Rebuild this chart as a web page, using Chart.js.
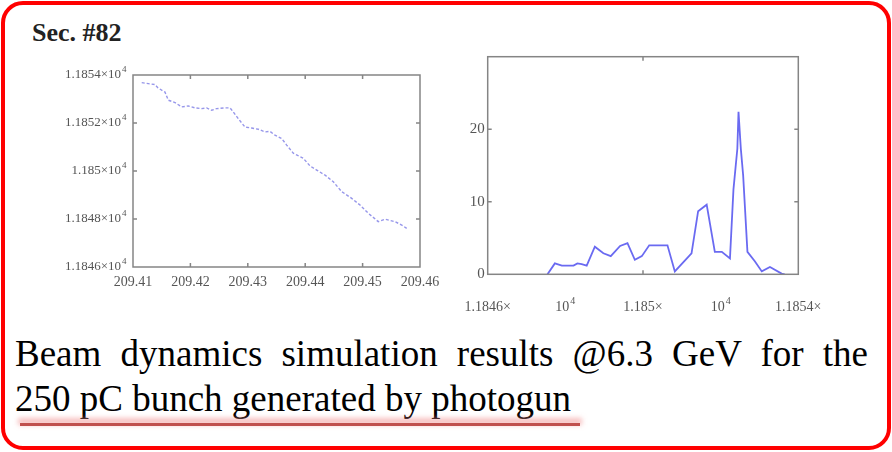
<!DOCTYPE html>
<html>
<head>
<meta charset="utf-8">
<script src="https://cdn.jsdelivr.net/npm/chart.js@4.4.1/dist/chart.umd.min.js"></script>
<style>
  body { margin: 0; background: #fff; width: 892px; height: 452px; overflow: hidden; position: relative; }
  #frame { position: absolute; left: 1px; top: 1px; width: 882px; height: 441px; border: 4px solid #ff0000; border-radius: 22px; }
  #title { position: absolute; left: 32px; top: 18px; font: bold 26px "Liberation Serif", "Times New Roman", serif; color: #222; }
  .box { position: absolute; }
  #left-box { left: 0; top: 50px; width: 440px; height: 250px; }
  #right-box { left: 440px; top: 40px; width: 440px; height: 290px; }
  .caption { position: absolute; left: 15px; width: 853px; font: 37px/45px "Liberation Serif", "Times New Roman", serif; color: #000; white-space: nowrap; }
  #line1 { top: 331px; text-align: justify; text-align-last: justify; white-space: normal; }
  #line2 { top: 376px; }
  #underline { position: absolute; left: 20px; top: 423px; width: 560px; height: 3px; background: #c0504d; box-shadow: 0 -3px 5px 2px rgba(240, 140, 140, 0.55); }
</style>
</head>
<body>
<div id="frame"></div>
<div id="title">Sec. #82</div>
<div class="box" id="left-box"><canvas id="energy-chart"></canvas></div>
<div class="box" id="right-box"><canvas id="spectrum-chart"></canvas></div>
<div class="caption" id="line1">Beam dynamics simulation results @6.3 GeV for the</div>
<div class="caption" id="line2">250 pC bunch generated by photogun</div>
<div id="underline"></div>

<script>
/*  data  */

// mean energy along the section
const sPos = [209.41152, 209.41267, 209.41383, 209.41436, 209.41557, 209.41615, 209.41732, 209.41848,
  209.41963, 209.4208, 209.42197, 209.42284, 209.42371, 209.42458, 209.42603, 209.4269, 209.42747,
  209.42834, 209.42951, 209.43068, 209.43183, 209.433, 209.43387, 209.43474, 209.43591, 209.43678,
  209.43793, 209.43967, 209.44084, 209.442, 209.44345, 209.4449, 209.44636, 209.4481, 209.44955,
  209.45099, 209.45273, 209.4539, 209.45564, 209.45681, 209.45768];
const meanEnergy = [11853.68, 11853.64, 11853.60, 11853.46, 11853.29, 11852.95, 11852.85, 11852.67,
  11852.71, 11852.63, 11852.60, 11852.63, 11852.53, 11852.60, 11852.63, 11852.63, 11852.46,
  11852.18, 11851.83, 11851.79, 11851.74, 11851.63, 11851.65, 11851.49, 11851.35, 11851.08,
  11850.74, 11850.53, 11850.21, 11850.04, 11849.83, 11849.55, 11849.14, 11848.86, 11848.58,
  11848.24, 11847.89, 11847.99, 11847.89, 11847.75, 11847.61];

// energy spectrum
const energyBins = [11847.54, 11847.73, 11847.91, 11848.21, 11848.31, 11848.42, 11848.55, 11848.76,
  11848.98, 11849.17, 11849.41, 11849.60, 11849.79, 11849.97, 11850.16, 11850.44, 11850.63,
  11850.82, 11851.25, 11851.42, 11851.64, 11851.85, 11852.03, 11852.24, 11852.33, 11852.43,
  11852.46, 11852.52, 11852.58, 11852.69, 11852.88, 11853.06, 11853.27, 11853.57, 11853.65];
const binCounts = [0, 1.5, 1.2, 1.2, 1.5, 1.4, 1.2, 3.8,
  2.9, 2.5, 3.9, 4.3, 2.0, 2.5, 4.0, 4.0, 4.0,
  0.4, 2.9, 8.7, 9.6, 3.1, 3.1, 2.2, 11.7, 17.3,
  22.4, 17.3, 13.6, 3.1, 1.8, 0.4, 1.0, 0.1, 0];

// tick labels ("^" marks a superscript)
const leftXTicks = ['209.41', '209.42', '209.43', '209.44', '209.45', '209.46'];
const leftYTicks = ['1.1846×10^4', '1.1848×10^4', '1.185×10^4', '1.1852×10^4', '1.1854×10^4'];
const rightXTicks = ['1.1846×', '10^4', '1.185×', '10^4', '1.1854×'];
const rightYTicks = ['0', '10', '20', ''];

const tickFont = '"Liberation Serif", "Times New Roman", serif';


/*  box axes drawn the old matlab way: frame, inner ticks, labels  */

function drawLabel(ctx, text, x, y, align, size) {
    const parts = text.split('^');
    const supSize = Math.round(size * 0.7);
    ctx.textBaseline = 'middle';
    ctx.font = size + 'px ' + tickFont;
    const base = ctx.measureText(parts[0]).width;
    let supW = 0;
    if (parts[1]) {
        ctx.font = supSize + 'px ' + tickFont;
        supW = ctx.measureText(parts[1]).width + 1;
    }
    let left = x;
    if (align === 'right') left = x - base;
    if (align === 'center') left = x - (base + supW) / 2;
    ctx.textAlign = 'left';
    ctx.font = size + 'px ' + tickFont;
    ctx.fillText(parts[0], left, y);
    if (parts[1]) {
        ctx.font = supSize + 'px ' + tickFont;
        ctx.fillText(parts[1], left + base + 1, y - size * 0.45);
    }
}

function boxAxes(cfg) {
    return {
        id: 'boxAxes',
        afterDraw(chart) {
            const ctx = chart.ctx;
            const a = chart.chartArea;
            const x = chart.scales.x;
            const y = chart.scales.y;
            ctx.save();
            ctx.strokeStyle = '#858585';
            ctx.lineWidth = 1.5;
            ctx.strokeRect(a.left, a.top, a.right - a.left, a.bottom - a.top);

            ctx.beginPath();
            cfg.xMarks.forEach(v => {
                const px = x.getPixelForValue(v);
                ctx.moveTo(px, a.top); ctx.lineTo(px, a.top + 4);
                ctx.moveTo(px, a.bottom); ctx.lineTo(px, a.bottom - 4);
            });
            cfg.yMarks.forEach(v => {
                const py = y.getPixelForValue(v);
                ctx.moveTo(a.left, py); ctx.lineTo(a.left + 4, py);
                ctx.moveTo(a.right, py); ctx.lineTo(a.right - 4, py);
            });
            ctx.stroke();

            ctx.fillStyle = '#555';
            x.ticks.forEach((t, i) => {
                if (cfg.xText[i]) drawLabel(ctx, cfg.xText[i], x.getPixelForValue(t.value), a.bottom + cfg.xGap, 'center', cfg.xSize);
            });
            y.ticks.forEach((t, i) => {
                if (cfg.yText[i]) drawLabel(ctx, cfg.yText[i], a.left - cfg.yGap, y.getPixelForValue(t.value), 'right', cfg.ySize);
            });
            ctx.restore();
        }
    };
}

function hiddenAxis(min, max, step) {
    return {
        type: 'linear',
        min: min,
        max: max,
        ticks: { display: false, stepSize: step },
        grid: { display: false },
        border: { display: false },
        afterFit(s) { if (s.isHorizontal()) s.height = 0; else s.width = 0; }
    };
}


/*  energy along the section  */

new Chart(document.getElementById('energy-chart'), {
    type: 'line',
    data: {
        datasets: [{
            data: sPos.map((s, i) => ({ x: s, y: meanEnergy[i] })),
            borderColor: 'rgba(105, 105, 225, 0.7)',
            borderWidth: 1.4,
            borderDash: [3, 2],
            pointRadius: 0,
            tension: 0
        }]
    },
    options: {
        responsive: true,
        maintainAspectRatio: false,
        animation: false,
        layout: { padding: { left: 133, right: 20, top: 25, bottom: 33 } },
        plugins: { legend: { display: false }, tooltip: { enabled: false } },
        scales: {
            x: hiddenAxis(209.41, 209.46, 0.01),
            y: hiddenAxis(11846, 11854, 2)
        }
    },
    plugins: [boxAxes({
        xMarks: [209.42, 209.43, 209.44, 209.45],
        yMarks: [11848, 11850, 11852],
        xText: leftXTicks, yText: leftYTicks,
        xGap: 15, yGap: 12, xSize: 14, ySize: 13
    })]
});


/*  energy spectrum  */

new Chart(document.getElementById('spectrum-chart'), {
    type: 'line',
    data: {
        datasets: [{
            data: energyBins.map((e, i) => ({ x: e, y: binCounts[i] })),
            borderColor: 'rgba(90, 90, 240, 0.9)',
            borderWidth: 1.8,
            pointRadius: 0,
            tension: 0
        }]
    },
    options: {
        responsive: true,
        maintainAspectRatio: false,
        animation: false,
        layout: { padding: { left: 47.7, right: 81.7, top: 16.7, bottom: 55.7 } },
        plugins: { legend: { display: false }, tooltip: { enabled: false } },
        scales: {
            x: hiddenAxis(11846, 11854, 2),
            y: hiddenAxis(0, 30, 10)
        }
    },
    plugins: [boxAxes({
        xMarks: [11850],
        yMarks: [10, 20],
        xText: rightXTicks, yText: rightYTicks,
        xGap: 33, yGap: 3, xSize: 14, ySize: 15
    })]
});
</script>
</body>
</html>
